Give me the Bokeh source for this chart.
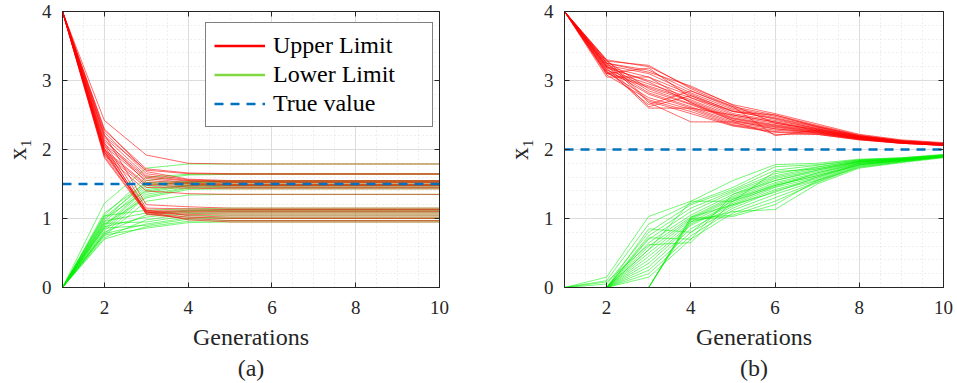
from bokeh.plotting import figure
from bokeh.layouts import row
from bokeh.models import (Range1d, SingleIntervalTicker, LinearAxis, Title,
                          Legend, LegendItem, ColumnDataSource)
from bokeh.embed import file_html
from bokeh.resources import INLINE

generations = [1, 2, 3, 4, 5, 6, 7, 8, 9, 10]
x_ticks_interval = 2
y_ticks_interval = 1

# ---------------- panel (a) ----------------
true_a = 1.5
upper_a = [
    [4, 2.42, 1.92, 1.80, 1.79, 1.79, 1.79, 1.79, 1.79, 1.79],
    [4, 2.28, 1.72, 1.66, 1.65, 1.65, 1.65, 1.65, 1.65, 1.65],
    [4, 2.20, 1.70, 1.65, 1.64, 1.64, 1.64, 1.64, 1.64, 1.64],
    [4, 2.30, 1.68, 1.57, 1.55, 1.55, 1.55, 1.55, 1.55, 1.55],
    [4, 2.25, 1.65, 1.56, 1.54, 1.54, 1.54, 1.54, 1.54, 1.54],
    [4, 2.18, 1.62, 1.55, 1.53, 1.53, 1.53, 1.53, 1.53, 1.53],
    [4, 2.12, 1.60, 1.54, 1.52, 1.52, 1.52, 1.52, 1.52, 1.52],
    [4, 2.08, 1.58, 1.52, 1.50, 1.50, 1.50, 1.50, 1.50, 1.50],
    [4, 2.05, 1.55, 1.51, 1.49, 1.49, 1.49, 1.49, 1.49, 1.49],
    [4, 2.15, 1.52, 1.50, 1.48, 1.48, 1.48, 1.48, 1.48, 1.48],
    [4, 2.00, 1.50, 1.48, 1.47, 1.47, 1.47, 1.47, 1.47, 1.47],
    [4, 1.98, 1.48, 1.46, 1.45, 1.45, 1.45, 1.45, 1.45, 1.45],
    [4, 1.95, 1.45, 1.44, 1.43, 1.43, 1.43, 1.43, 1.43, 1.43],
    [4, 1.92, 1.40, 1.36, 1.35, 1.35, 1.35, 1.35, 1.35, 1.35],
    [4, 2.22, 1.20, 1.17, 1.15, 1.15, 1.15, 1.15, 1.15, 1.15],
    [4, 2.10, 1.15, 1.14, 1.13, 1.13, 1.13, 1.13, 1.13, 1.13],
    [4, 2.02, 1.12, 1.12, 1.12, 1.12, 1.12, 1.12, 1.12, 1.12],
    [4, 1.96, 1.10, 1.10, 1.10, 1.10, 1.10, 1.10, 1.10, 1.10],
    [4, 1.90, 1.09, 1.08, 1.08, 1.08, 1.08, 1.08, 1.08, 1.08],
    [4, 2.06, 1.08, 1.06, 1.05, 1.05, 1.05, 1.05, 1.05, 1.05],
    [4, 1.93, 1.12, 1.04, 1.02, 1.02, 1.02, 1.02, 1.02, 1.02],
    [4, 1.88, 1.07, 1.02, 1.00, 1.00, 1.00, 1.00, 1.00, 1.00],
    [4, 2.00, 1.06, 1.00, 0.97, 0.97, 0.97, 0.97, 0.97, 0.97],
    [4, 1.97, 1.10, 0.98, 0.95, 0.95, 0.95, 0.95, 0.95, 0.95],
]
lower_a = [
    [0, 1.22, 1.73, 1.79, 1.79, 1.79, 1.79, 1.79, 1.79, 1.79],
    [0, 1.05, 1.60, 1.64, 1.65, 1.65, 1.65, 1.65, 1.65, 1.65],
    [0, 0.98, 1.55, 1.63, 1.64, 1.64, 1.64, 1.64, 1.64, 1.64],
    [0, 1.08, 1.52, 1.54, 1.55, 1.55, 1.55, 1.55, 1.55, 1.55],
    [0, 0.95, 1.48, 1.53, 1.54, 1.54, 1.54, 1.54, 1.54, 1.54],
    [0, 1.02, 1.50, 1.52, 1.53, 1.53, 1.53, 1.53, 1.53, 1.53],
    [0, 0.90, 1.45, 1.51, 1.52, 1.52, 1.52, 1.52, 1.52, 1.52],
    [0, 0.88, 1.42, 1.49, 1.50, 1.50, 1.50, 1.50, 1.50, 1.50],
    [0, 1.00, 1.40, 1.48, 1.49, 1.49, 1.49, 1.49, 1.49, 1.49],
    [0, 0.85, 1.38, 1.47, 1.48, 1.48, 1.48, 1.48, 1.48, 1.48],
    [0, 0.82, 1.35, 1.45, 1.47, 1.47, 1.47, 1.47, 1.47, 1.47],
    [0, 0.78, 1.32, 1.44, 1.45, 1.45, 1.45, 1.45, 1.45, 1.45],
    [0, 0.92, 1.30, 1.42, 1.43, 1.43, 1.43, 1.43, 1.43, 1.43],
    [0, 0.75, 1.25, 1.34, 1.35, 1.35, 1.35, 1.35, 1.35, 1.35],
    [0, 1.04, 1.12, 1.14, 1.15, 1.15, 1.15, 1.15, 1.15, 1.15],
    [0, 0.96, 1.08, 1.12, 1.13, 1.13, 1.13, 1.13, 1.13, 1.13],
    [0, 0.80, 1.05, 1.11, 1.12, 1.12, 1.12, 1.12, 1.12, 1.12],
    [0, 0.88, 1.02, 1.09, 1.10, 1.10, 1.10, 1.10, 1.10, 1.10],
    [0, 0.72, 0.98, 1.07, 1.08, 1.08, 1.08, 1.08, 1.08, 1.08],
    [0, 0.93, 0.95, 1.04, 1.05, 1.05, 1.05, 1.05, 1.05, 1.05],
    [0, 0.78, 0.92, 1.01, 1.02, 1.02, 1.02, 1.02, 1.02, 1.02],
    [0, 0.86, 0.90, 0.99, 1.00, 1.00, 1.00, 1.00, 1.00, 1.00],
    [0, 0.70, 0.88, 0.96, 0.97, 0.97, 0.97, 0.97, 0.97, 0.97],
    [0, 0.76, 0.86, 0.94, 0.95, 0.95, 0.95, 0.95, 0.95, 0.95],
]

# ---------------- panel (b) ----------------
true_b = 2.0
upper_b = [
    [4, 3.30, 3.20, 2.90, 2.65, 2.52, 2.37, 2.22, 2.14, 2.10],
    [4, 3.28, 3.22, 2.88, 2.62, 2.50, 2.35, 2.21, 2.13, 2.09],
    [4, 3.25, 3.15, 2.85, 2.60, 2.48, 2.34, 2.20, 2.13, 2.09],
    [4, 3.22, 3.10, 2.82, 2.58, 2.46, 2.33, 2.20, 2.12, 2.08],
    [4, 3.20, 3.05, 2.80, 2.55, 2.45, 2.32, 2.19, 2.12, 2.08],
    [4, 3.18, 3.00, 2.78, 2.52, 2.42, 2.31, 2.19, 2.12, 2.08],
    [4, 3.15, 2.95, 2.75, 2.50, 2.40, 2.30, 2.18, 2.11, 2.08],
    [4, 3.12, 2.92, 2.72, 2.48, 2.38, 2.29, 2.18, 2.11, 2.07],
    [4, 3.10, 2.90, 2.70, 2.46, 2.36, 2.28, 2.17, 2.11, 2.07],
    [4, 3.05, 3.05, 2.68, 2.45, 2.35, 2.27, 2.17, 2.10, 2.07],
    [4, 3.28, 2.88, 2.66, 2.44, 2.34, 2.26, 2.16, 2.10, 2.07],
    [4, 3.24, 2.85, 2.65, 2.42, 2.33, 2.26, 2.16, 2.10, 2.07],
    [4, 3.20, 2.82, 2.62, 2.40, 2.32, 2.25, 2.16, 2.10, 2.06],
    [4, 3.16, 2.80, 2.60, 2.38, 2.30, 2.24, 2.15, 2.10, 2.06],
    [4, 3.12, 2.75, 2.58, 2.36, 2.28, 2.24, 2.15, 2.09, 2.06],
    [4, 3.08, 2.72, 2.55, 2.35, 2.26, 2.23, 2.15, 2.09, 2.06],
    [4, 3.30, 2.70, 2.52, 2.34, 2.25, 2.22, 2.14, 2.09, 2.06],
    [4, 3.26, 2.68, 2.40, 2.40, 2.22, 2.22, 2.14, 2.09, 2.06],
    [4, 3.14, 2.65, 2.85, 2.62, 2.20, 2.28, 2.18, 2.11, 2.08],
    [4, 3.22, 2.62, 2.78, 2.56, 2.44, 2.30, 2.19, 2.12, 2.08],
    [4, 3.18, 2.60, 2.60, 2.50, 2.40, 2.27, 2.17, 2.11, 2.07],
    [4, 3.10, 3.18, 2.75, 2.55, 2.50, 2.33, 2.20, 2.12, 2.08],
    [4, 3.25, 3.12, 2.92, 2.64, 2.38, 2.29, 2.18, 2.11, 2.07],
    [4, 3.20, 2.98, 2.68, 2.42, 2.30, 2.25, 2.16, 2.10, 2.07],
]
lower_b = [
    [0, 0.15, 1.03, 1.25, 1.55, 1.78, 1.80, 1.86, 1.88, 1.93],
    [0, 0.10, 0.92, 1.22, 1.45, 1.75, 1.78, 1.85, 1.88, 1.92],
    [0, 0.05, 0.80, 1.20, 1.42, 1.70, 1.77, 1.85, 1.87, 1.92],
    [0, 0.00, 0.75, 1.15, 1.40, 1.65, 1.75, 1.84, 1.87, 1.92],
    [0, 0.00, 0.70, 1.10, 1.38, 1.62, 1.74, 1.84, 1.87, 1.91],
    [0, 0.00, 0.65, 1.05, 1.35, 1.60, 1.72, 1.83, 1.86, 1.91],
    [0, 0.00, 0.60, 1.02, 1.32, 1.58, 1.70, 1.83, 1.86, 1.91],
    [0, 0.00, 0.55, 1.00, 1.30, 1.55, 1.68, 1.82, 1.86, 1.91],
    [0, 0.00, 0.50, 0.98, 1.28, 1.52, 1.66, 1.82, 1.85, 1.91],
    [0, 0.00, 0.45, 0.95, 1.25, 1.50, 1.64, 1.81, 1.85, 1.90],
    [0, 0.00, 0.40, 0.92, 1.22, 1.48, 1.62, 1.80, 1.85, 1.90],
    [0, 0.00, 0.35, 0.90, 1.20, 1.45, 1.60, 1.80, 1.84, 1.90],
    [0, 0.00, 0.30, 0.85, 1.18, 1.42, 1.58, 1.79, 1.84, 1.90],
    [0, 0.00, 0.25, 0.80, 1.15, 1.40, 1.56, 1.78, 1.84, 1.90],
    [0, 0.00, 0.20, 0.75, 1.12, 1.35, 1.55, 1.77, 1.83, 1.89],
    [0, 0.00, 0.15, 0.70, 1.08, 1.30, 1.53, 1.76, 1.83, 1.89],
    [0, 0.00, 0.00, 1.00, 1.05, 1.25, 1.52, 1.75, 1.82, 1.89],
    [0, 0.00, 0.00, 0.98, 1.03, 1.20, 1.55, 1.74, 1.82, 1.89],
    [0, 0.00, 0.00, 0.95, 1.10, 1.13, 1.50, 1.73, 1.81, 1.88],
    [0, 0.00, 0.00, 1.02, 1.20, 1.38, 1.60, 1.78, 1.84, 1.90],
    [0, 0.08, 0.62, 0.65, 1.25, 1.46, 1.66, 1.80, 1.85, 1.90],
    [0, 0.00, 0.72, 0.70, 1.35, 1.55, 1.70, 1.82, 1.86, 1.91],
    [0, 0.00, 0.85, 0.80, 1.28, 1.48, 1.62, 1.78, 1.84, 1.90],
    [0, 0.00, 0.55, 1.25, 1.25, 1.68, 1.72, 1.83, 1.86, 1.91],
]

legend_labels = ["Upper Limit", "Lower Limit", "True value"]
panel_tags = ["(a)", "(b)"]
x_label = "Generations"
y_label = "x\u2081"

FONT = "Liberation Serif"
AX = "#262626"
RED = "#ff0000"
GREEN = "#00ee00"
BLUE = "#0072bd"
NAN = float("nan")


def make_panel(upper, lower, true_val, tag, width, left, right, legend):
    p = figure(width=width, height=383, output_backend="svg",
               toolbar_location=None, x_range=Range1d(1, 10),
               y_range=Range1d(0, 4), min_border_left=left,
               min_border_right=right, min_border_top=11,
               min_border_bottom=96)
    p.background_fill_color = "white"
    p.border_fill_color = "white"
    p.outline_line_color = AX
    p.outline_line_width = 1

    xt = SingleIntervalTicker(interval=x_ticks_interval, num_minor_ticks=4)
    yt = SingleIntervalTicker(interval=y_ticks_interval, num_minor_ticks=5)
    p.xaxis.ticker = xt
    p.yaxis.ticker = yt
    for ax in (p.xaxis[0], p.yaxis[0]):
        ax.major_tick_in = 5
        ax.major_tick_out = 0
        ax.minor_tick_line_color = None
        ax.axis_line_color = AX
        ax.major_tick_line_color = AX
        ax.major_label_text_font = FONT
        ax.major_label_text_font_size = "19px"
        ax.major_label_text_color = AX
        ax.axis_label_text_font = FONT
        ax.axis_label_text_font_style = "normal"
        ax.axis_label_text_color = AX
    p.xaxis.major_label_standoff = 9
    p.yaxis.major_label_standoff = 7
    p.xaxis.axis_label = x_label
    p.xaxis.axis_label_text_font_size = "24px"
    p.xaxis.axis_label_standoff = 7
    p.yaxis.axis_label = y_label
    p.yaxis.axis_label_text_font_size = "25px"
    p.yaxis.axis_label_standoff = 8

    for side in ("right", "above"):
        t = yt if side == "right" else xt
        a = LinearAxis(ticker=t, major_tick_in=5, major_tick_out=0,
                       minor_tick_line_color=None, axis_line_color=AX,
                       major_tick_line_color=AX,
                       major_label_text_alpha=0,
                       major_label_text_font_size="1px",
                       major_label_standoff=0)
        p.add_layout(a, side)

    for g in (p.xgrid[0], p.ygrid[0]):
        g.grid_line_color = "#dcdcdc"
        g.grid_line_width = 1
        g.minor_grid_line_color = "#dedede"
        g.minor_grid_line_dash = "1 3"
    p.xgrid.ticker = xt
    p.ygrid.ticker = yt

    src_l = ColumnDataSource(dict(xs=[generations] * len(lower), ys=lower))
    src_u = ColumnDataSource(dict(xs=[generations] * len(upper), ys=upper))
    p.multi_line("xs", "ys", source=src_l, line_color=GREEN,
                 line_width=0.9, line_alpha=0.6)
    p.multi_line("xs", "ys", source=src_u, line_color=RED,
                 line_width=0.9, line_alpha=0.65)
    p.line([generations[0], generations[-1]], [true_val, true_val],
           line_color=BLUE, line_width=2.5, line_dash="9 7")

    p.add_layout(Title(text=tag, align="center", text_font=FONT,
                       text_font_size="24px", text_font_style="normal",
                       text_color=AX, standoff=0, offset=0), "below")

    if legend:
        r1 = p.line([NAN], [NAN], line_color=RED, line_width=2.5)
        r2 = p.line([NAN], [NAN], line_color="#7fd93f", line_width=2.5)
        r3 = p.line([NAN], [NAN], line_color=BLUE, line_width=2.5,
                    line_dash="9 7")
        lg = Legend(items=[LegendItem(label=legend_labels[0], renderers=[r1]),
                           LegendItem(label=legend_labels[1], renderers=[r2]),
                           LegendItem(label=legend_labels[2], renderers=[r3])],
                    location=(143, 160), orientation="vertical")
        lg.label_text_font = FONT
        lg.label_text_font_size = "24px"
        lg.label_text_color = "#000000"
        lg.label_height = 29
        lg.glyph_height = 29
        lg.glyph_width = 51
        lg.label_width = 151
        lg.label_standoff = 8
        lg.spacing = 0
        lg.padding = 8
        lg.margin = 0
        lg.border_line_color = "#000000"
        lg.border_line_width = 1.5
        lg.background_fill_alpha = 1
        p.add_layout(lg)
    return p


pa = make_panel(upper_a, lower_a, true_a, panel_tags[0], 478, 60, 39, True)
pb = make_panel(upper_b, lower_b, true_b, panel_tags[1], 479, 86, 14, False)

layout = row(pa, pb)
open("out.html", "w").write(file_html(layout, INLINE))
